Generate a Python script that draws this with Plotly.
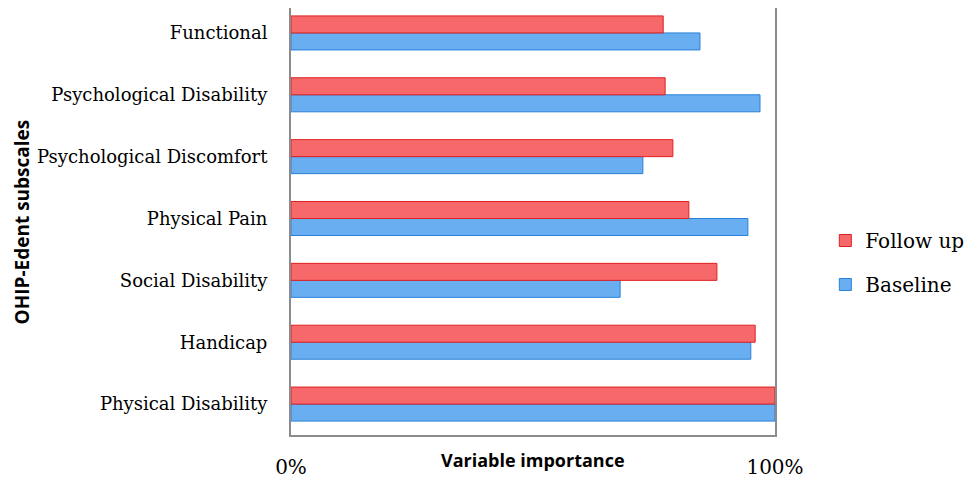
import plotly.graph_objects as go

# subscales, listed top to bottom as in the chart
categories = ['Functional', 'Psychological Disability', 'Psychological Discomfort',
              'Physical Pain', 'Social Disability', 'Handicap', 'Physical Disability']
follow_up = [76.9, 77.3, 78.9, 82.2, 88.0, 95.9, 100.0]
baseline = [84.5, 96.9, 72.7, 94.4, 68.0, 95.0, 100.0]
tick_vals = [0, 100]
tick_text = ['0%', '100%']

serif = 'DejaVu Serif'
sans = 'Open Sans'

fig = go.Figure()
# baseline first so it sits under follow up in each pair
fig.add_trace(go.Bar(
    y=categories, x=baseline, orientation='h', name='Baseline',
    marker=dict(color='#6aaef2', line=dict(color='#2a80d8', width=1)),
    legendgroup='b', legendrank=2,
))
fig.add_trace(go.Bar(
    y=categories, x=follow_up, orientation='h', name='Follow up',
    marker=dict(color='#f7686a', line=dict(color='#e02020', width=1)),
    legendgroup='f', legendrank=1,
))

fig.update_layout(
    width=972, height=475,
    margin=dict(l=283, r=205, t=0, b=48, autoexpand=False),
    plot_bgcolor='white', paper_bgcolor='white',
    barmode='group', bargap=0.45, bargroupgap=0,
    showlegend=True,
    legend=dict(
        x=1.104, y=0.404, xanchor='left', yanchor='middle',
        traceorder='grouped', tracegroupgap=15,
        font=dict(family=serif, size=20, color='black'),
        itemwidth=30,
    ),
    xaxis=dict(
        range=[0, 100], tickvals=tick_vals, ticktext=tick_text,
        showgrid=False, zeroline=False, automargin=False,
        showline=True, linecolor='#8c8c8c', linewidth=2,
        ticks='outside', ticklen=13, tickcolor='rgba(0,0,0,0)',
        tickfont=dict(family=serif, size=20, color='black'),
    ),
    yaxis=dict(
        categoryorder='array', categoryarray=categories[::-1],
        range=[-0.5, 6.403],
        showgrid=False, zeroline=False, automargin=False,
        showline=True, mirror=True, linecolor='#8c8c8c', linewidth=2,
        ticks='outside', ticklen=18, tickcolor='rgba(0,0,0,0)',
        tickfont=dict(family=serif, size=18, color='black'),
    ),
    annotations=[
        dict(text='<b>Variable importance</b>', xref='paper', yref='paper',
             x=0.5, y=-0.059, xanchor='center', yanchor='middle', showarrow=False,
             font=dict(family=sans, size=18, color='black')),
        dict(text='<b>OHIP-Edent subscales</b>', xref='paper', yref='paper',
             x=-0.556, y=0.5, xanchor='center', yanchor='middle', showarrow=False,
             textangle=-90, font=dict(family=sans, size=19, color='black')),
    ],
)

fig.write_html('out.html')
